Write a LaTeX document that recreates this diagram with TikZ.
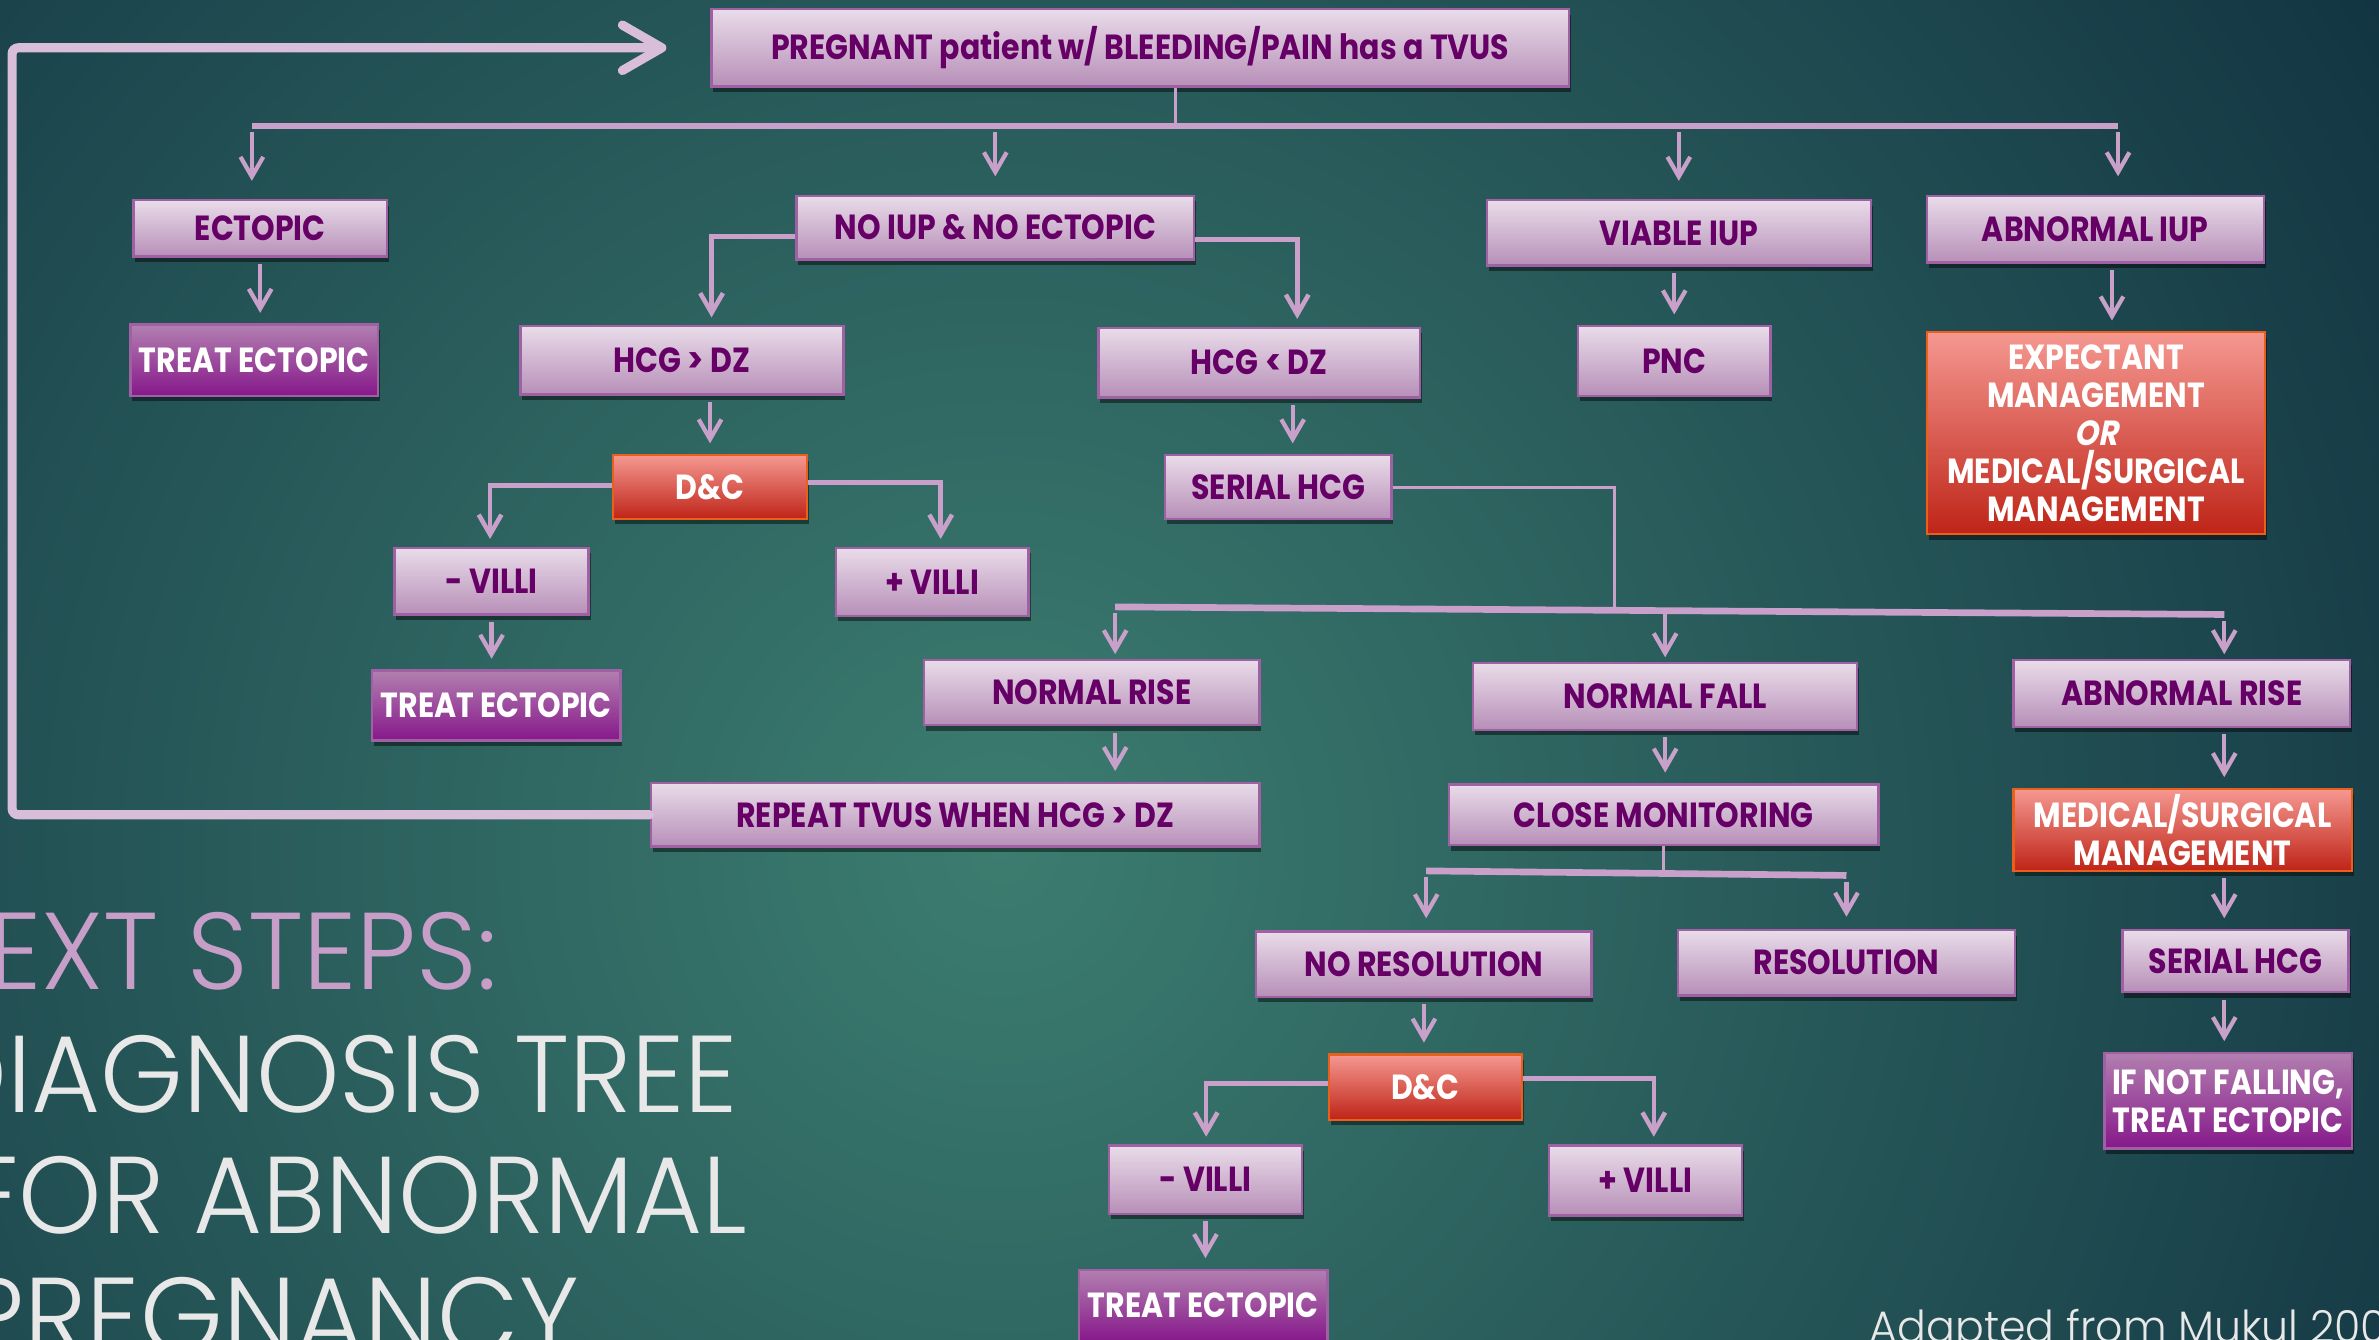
\documentclass[tikz,border=0pt]{standalone}
\usepackage{fontspec}
\usepackage{tikz}
\usetikzlibrary{arrows.meta,shapes,shadows,calc}

\newfontfamily\boxfont[FakeStretch=0.86]{Poppins Bold}
\newfontfamily\boxitfont[FakeStretch=0.86,FakeSlant=0.2]{Poppins Bold}
\newfontfamily\titlefont[FakeStretch=0.97]{Poppins Light}

\definecolor{bglight}{RGB}{60,125,112}
\definecolor{bgdark}{RGB}{18,52,66}
\definecolor{linkc}{RGB}{201,160,201}
\definecolor{loopc}{RGB}{216,190,216}
\definecolor{boxtop}{RGB}{233,220,233}
\definecolor{boxbot}{RGB}{183,143,184}
\definecolor{boxline}{RGB}{160,96,164}
\definecolor{boxtext}{RGB}{102,0,102}
\definecolor{redtop}{RGB}{245,152,145}
\definecolor{redbot}{RGB}{191,36,23}
\definecolor{redline}{RGB}{232,96,28}
\definecolor{purtop}{RGB}{178,127,176}
\definecolor{purbot}{RGB}{134,24,138}
\definecolor{titlec}{RGB}{232,232,232}
\definecolor{nextc}{RGB}{199,158,199}

\tikzset{
  box/.style={draw=boxline,line width=0.8pt,top color=boxtop,bottom color=boxbot,
    text=boxtext,font=\boxfont\fontsize{11.5}{12.5}\selectfont,inner sep=0pt,align=center,
    drop shadow={shadow xshift=0.6pt,shadow yshift=-1.8pt,opacity=0.45,fill=black}},
  redbox/.style={box,draw=redline,top color=redtop,bottom color=redbot,text=white},
  purbox/.style={box,top color=purtop,bottom color=purbot,text=white},
  arr/.style={draw=linkc,line width=1.4pt,-{Straight Barb[length=6.5pt,width=7.5pt]},
    shorten <=2pt,shorten >=3.5pt},
  elbow/.style={draw=linkc,line width=1.5pt,-{Straight Barb[length=6.5pt,width=7.5pt]},shorten >=2.5pt},
  bus/.style={draw=linkc,line width=2.2pt},
  stem/.style={draw=linkc,line width=1pt},
  title/.style={inner sep=0pt,text=titlec,font=\titlefont\fontsize{36}{36}\selectfont},
}

\begin{document}
\begin{tikzpicture}[x=0.5pt,y=-0.5pt]
\useasboundingbox (0,0) rectangle (1568,883);
\clip (0,0) rectangle (1568,883);
\fill[bgdark] (0,0) rectangle (1568,883);
\shade[inner color=bglight,outer color=bgdark] (660,560) circle (540pt);

% titles
\node (T1) at (328,652)[title,text=nextc,anchor=base east] {NEXT STEPS:};
\node (T2) at (487,733)[title,anchor=base east] {DIAGNOSIS TREE};
\node (T3) at (493,813)[title,anchor=base east] {FOR ABNORMAL};
\node (T4) at (382,893)[title,anchor=base east] {PREGNANCY};
\node (SRC) at (1232,885)[anchor=base west,inner sep=0pt,text=titlec,font=\titlefont\fontsize{14.5}{14.5}\selectfont] {Adapted from Mukul 200};

% boxes
\node (PREG) at (751.5,31.5)[box,minimum width=282.5pt,minimum height=25.5pt] {PREGNANT patient w/ BLEEDING/PAIN has a TVUS};
\node (ECT) at (171.5,150.5)[box,minimum width=83.5pt,minimum height=18.5pt] {ECTOPIC};
\node (TRT1) at (167.5,237.5)[purbox,minimum width=81.5pt,minimum height=23.5pt] {TREAT ECTOPIC};
\node (NIUP) at (656,150)[box,minimum width=131pt,minimum height=21pt] {NO IUP \& NO ECTOPIC};
\node (VIUP) at (1106.5,153.5)[box,minimum width=126.5pt,minimum height=21.5pt] {VIABLE IUP};
\node (AIUP) at (1381,151)[box,minimum width=111pt,minimum height=22pt] {ABNORMAL IUP};
\node (HGT) at (449.5,237.5)[box,minimum width=106.5pt,minimum height=22.5pt] {HCG > DZ};
\node (HLT) at (830,239)[box,minimum width=106pt,minimum height=23pt] {HCG < DZ};
\node (PNC) at (1103.5,238)[box,minimum width=63.5pt,minimum height=23pt] {PNC};
\node (EXP) at (1381.5,285.5)[redbox,minimum width=111.5pt,minimum height=66.5pt] {EXPECTANT\\MANAGEMENT\\{\boxitfont OR}\\MEDICAL/SURGICAL\\MANAGEMENT};
\node (DC1) at (468,321)[redbox,minimum width=64pt,minimum height=21pt] {D\&C};
\node (SER1) at (842.5,321)[box,minimum width=74.5pt,minimum height=21pt] {SERIAL HCG};
\node (MV1) at (324,383)[box,minimum width=64pt,minimum height=22pt] {- VILLI};
\node (PV1) at (614.5,383.5)[box,minimum width=63.5pt,minimum height=22.5pt] {+ VILLI};
\node (TRT2) at (327,465)[purbox,minimum width=82pt,minimum height=23pt] {TREAT ECTOPIC};
\node (NRISE) at (719.5,456.5)[box,minimum width=110.5pt,minimum height=21.5pt] {NORMAL RISE};
\node (NFALL) at (1097.5,459)[box,minimum width=126.5pt,minimum height=22pt] {NORMAL FALL};
\node (ARISE) at (1438,457)[box,minimum width=111pt,minimum height=22pt] {ABNORMAL RISE};
\node (REP) at (629.5,537)[box,minimum width=200.5pt,minimum height=21pt] {REPEAT TVUS WHEN HCG > DZ};
\node (CLOSE) at (1096.5,537)[box,minimum width=141.5pt,minimum height=20pt] {CLOSE MONITORING};
\node (MS) at (1438.5,547)[redbox,minimum width=111.5pt,minimum height=27pt] {MEDICAL/SURGICAL\\MANAGEMENT};
\node (NRES) at (938.5,635.5)[box,minimum width=110.5pt,minimum height=21.5pt] {NO RESOLUTION};
\node (RES) at (1217,634.5)[box,minimum width=111pt,minimum height=21.5pt] {RESOLUTION};
\node (SER2) at (1473.5,633.5)[box,minimum width=74.5pt,minimum height=20.5pt] {SERIAL HCG};
\node (DC2) at (939.5,716.5)[redbox,minimum width=63.5pt,minimum height=21.5pt] {D\&C};
\node (IFNF) at (1468.5,725.5)[purbox,minimum width=81.5pt,minimum height=31.5pt] {IF NOT FALLING,\\TREAT ECTOPIC};
\node (MV2) at (794.5,777.5)[box,minimum width=63.5pt,minimum height=22.5pt] {- VILLI};
\node (PV2) at (1084.5,778)[box,minimum width=63.5pt,minimum height=23pt] {+ VILLI};
\node (TRT3) at (793,860.5)[purbox,minimum width=82pt,minimum height=23.5pt] {TREAT ECTOPIC};

% bus points
\coordinate (TB) at (775,83);
\coordinate (TBL) at (166,83);
\coordinate (TBR) at (1396,83);
\coordinate (B2) at (1064,401);
\coordinate (B2L) at (735,400);
\coordinate (B2R) at (1466,405);
\coordinate (B3L) at (940,574);
\coordinate (B3R) at (1217,577);

% top level
\draw [stem] (PREG.south -| TB) -- (TB);
\draw [bus] (TBL) -- (TBR);
\draw [arr,shorten >=6pt] (TBL) -- (TBL |- ECT.north);
\draw [arr,shorten >=6pt] (NIUP.north |- TB) -- (NIUP.north);
\draw [arr,shorten >=6pt] (VIUP.north |- TB) -- (VIUP.north);
\draw [arr,shorten >=6pt] (TBR) -- (TBR |- AIUP.north);

\draw [arr] (ECT.south) -- (ECT.south |- TRT1.north);
\draw [elbow] ($(NIUP.west)+(0,6)$) -| ($(HGT.north)+(19.5,0)$);
\draw [elbow] ($(NIUP.east)+(0,8)$) -| ($(HLT.north)+(25,0)$);
\draw [arr] (PNC.north |- VIUP.south) -- (PNC.north);
\draw [arr] ($(AIUP.south)+(11,0)$) -- ($(EXP.north)+(10.5,0)$);
\draw [arr] (DC1.north |- HGT.south) -- (DC1.north);
\draw [arr] ($(HLT.south)+(22,0)$) -- ($(SER1.north)+(9.5,0)$);
\draw [elbow] ($(DC1.west)+(0,-1)$) -| ($(MV1.north)+(-1,0)$);
\draw [elbow] ($(DC1.east)+(0,-3)$) -| ($(PV1.north)+(5.5,0)$);
\draw [arr] (MV1.south) -- (MV1.south |- TRT2.north);

% serial hcg
\draw [stem] (SER1.east) -| (B2);
\draw [bus] (B2L) -- (B2R);
\draw [arr,shorten >=1.5pt] (B2L) -- (B2L |- NRISE.north);
\draw [arr,shorten >=1.5pt] (NFALL.north |- B2) -- (NFALL.north);
\draw [arr,shorten >=1.5pt] (B2R) -- (B2R |- ARISE.north);
\draw [arr] (B2L |- NRISE.south) -- (B2L |- REP.north);
\draw [arr] (NFALL.south) -- (NFALL.south |- CLOSE.north);
\draw [arr] (B2R |- ARISE.south) -- (B2R |- MS.north);

% back to the top
\draw [draw=loopc,line width=3pt,line cap=round,rounded corners=2pt,
  -{Straight Barb[length=13pt,width=15pt,round]},shorten >=14.5pt]
  (REP.west) -- (REP.west -| 8,0) |- (PREG.west);

% close monitoring
\draw [stem] (CLOSE.south) -- (CLOSE.south |- B3L);
\draw [bus] (B3L) -- (B3R);
\draw [arr,shorten >=4pt] (B3L) -- (B3L |- NRES.north);
\draw [arr,shorten >=4pt] (B3R) -- (B3R |- RES.north);
\draw [arr] (B2R |- MS.south) -- (B2R |- SER2.north);
\draw [arr] (NRES.south) -- (NRES.south |- DC2.north);
\draw [arr] (B2R |- SER2.south) -- (B2R |- IFNF.north);
\draw [elbow] ($(DC2.west)+(0,-2.5)$) -| ($(MV2.north)+(0.5,0)$);
\draw [elbow] ($(DC2.east)+(0,-5.5)$) -| ($(PV2.north)+(5.5,0)$);
\draw [arr] (MV2.south) -- (MV2.south |- TRT3.north);
\end{tikzpicture}
\end{document}
